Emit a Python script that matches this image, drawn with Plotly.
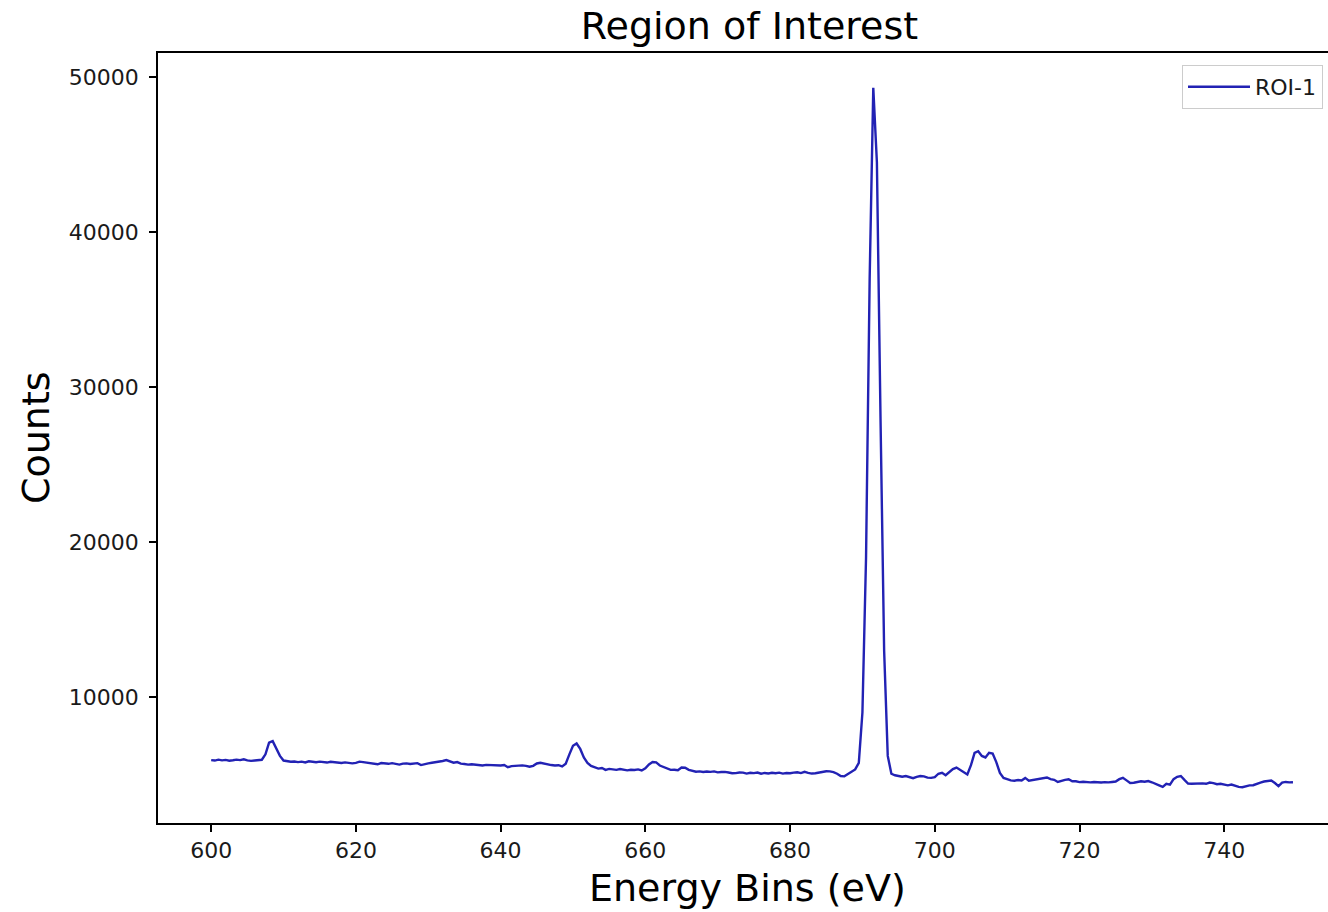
import plotly.graph_objects as go

# Energy bins (eV): 600.0 .. 749.5 in 0.5 eV steps
e_start = 600.0
e_step = 0.5

counts = [
    5930, 5900, 5960, 5910, 5940, 5890, 5920, 5960, 5930, 5980,   # 600
    5910, 5880, 5900, 5920, 5950, 6300, 7050, 7150, 6700, 6200,   # 605
    5900, 5860, 5820, 5840, 5800, 5830, 5780, 5850, 5810, 5790,   # 610
    5830, 5800, 5770, 5820, 5790, 5760, 5740, 5780, 5760, 5720,   # 615
    5750, 5830, 5800, 5760, 5720, 5690, 5660, 5740, 5720, 5690,   # 620
    5730, 5700, 5640, 5700, 5720, 5680, 5700, 5730, 5610, 5690,   # 625
    5720, 5760, 5790, 5820, 5870, 5930, 5860, 5760, 5800, 5700,   # 630
    5680, 5640, 5660, 5630, 5600, 5580, 5620, 5600, 5610, 5560,   # 635
    5580, 5610, 5470, 5540, 5560, 5540, 5590, 5560, 5500, 5560,   # 640
    5710, 5760, 5700, 5620, 5610, 5580, 5600, 5520, 5700, 6300,   # 645
    6850, 7000, 6650, 6100, 5750, 5550, 5480, 5380, 5420, 5300,   # 650
    5360, 5340, 5300, 5350, 5320, 5270, 5310, 5290, 5330, 5260,   # 655
    5400, 5650, 5800, 5780, 5580, 5470, 5380, 5300, 5310, 5280,   # 660
    5450, 5440, 5300, 5220, 5180, 5200, 5160, 5190, 5170, 5200,   # 665
    5140, 5160, 5170, 5130, 5080, 5090, 5130, 5120, 5060, 5110,   # 670
    5090, 5130, 5050, 5100, 5070, 5110, 5080, 5120, 5060, 5100,   # 675
    5080, 5120, 5140, 5090, 5170, 5110, 5060, 5080, 5120, 5180,   # 680
    5210, 5200, 5150, 5050, 4900, 4880, 5050, 5200, 5330, 5750,   # 685
    9000, 19000, 37000, 49300, 44500, 28000, 13000, 6200, 5050, 4950,  # 690
    4880, 4860, 4900, 4820, 4760, 4850, 4900, 4880, 4800, 4780,   # 695
    4830, 5050, 5110, 4950, 5150, 5350, 5450, 5300, 5100, 5000,   # 700
    5600, 6400, 6500, 6200, 6100, 6400, 6350, 5800, 5100, 4780,   # 705
    4700, 4620, 4600, 4640, 4610, 4780, 4600, 4640, 4700, 4760,   # 710
    4800, 4810, 4700, 4660, 4520, 4600, 4650, 4690, 4560, 4560,   # 715
    4510, 4530, 4500, 4490, 4520, 4500, 4480, 4510, 4490, 4520,   # 720
    4550, 4700, 4790, 4620, 4450, 4470, 4520, 4560, 4530, 4580,   # 725
    4500, 4420, 4300, 4200, 4400, 4350, 4700, 4850, 4900, 4650,   # 730
    4420, 4400, 4420, 4410, 4430, 4400, 4480, 4440, 4370, 4400,   # 735
    4330, 4300, 4350, 4260, 4200, 4180, 4250, 4300, 4310, 4420,   # 740
    4480, 4550, 4560, 4610, 4450, 4250, 4480, 4520, 4490, 4500,   # 745
]
energy = [e_start + i * e_step for i in range(len(counts))]

x_ticks = [600, 620, 640, 660, 680, 700, 720, 740]
y_ticks = [10000, 20000, 30000, 40000, 50000]

title_text = "Region of Interest"
x_label = "Energy Bins (eV)"
y_label = "Counts"
series_name = "ROI-1"

FONT = "DejaVu Sans"
W, H = 1328, 912
L, T, B, R = 158, 53, 89, 0
plot_w = W - L - R
plot_h = H - T - B

fig = go.Figure()
fig.add_trace(go.Scatter(
    x=energy, y=counts, mode="lines",
    name=series_name,
    line=dict(color="#2222b4", width=2.4),
))

fig.update_layout(
    width=W, height=H,
    margin=dict(l=L, r=R, t=T, b=B, pad=0, autoexpand=False),
    paper_bgcolor="white", plot_bgcolor="white",
    font=dict(family=FONT, color="black", size=22),
    showlegend=True,
    legend=dict(
        x=(1182 - L) / plot_w, y=1 - (65 - T) / plot_h,
        xanchor="left", yanchor="top",
        bgcolor="white", bordercolor="#cccccc", borderwidth=1,
        itemwidth=62,
        font=dict(family=FONT, size=22, color="#1a1a1a"),
    ),
    title=dict(
        text=title_text,
        x=(749.5 - L) / plot_w, xref="paper", xanchor="center",
        y=1 - 26 / H, yref="container", yanchor="middle",
        font=dict(family=FONT, size=38, color="black"),
    ),
    xaxis=dict(
        range=[592.65, 592.65 + plot_w / 7.236],
        tickvals=x_ticks, ticktext=[str(v) for v in x_ticks],
        ticks="outside", ticklen=7, tickwidth=1.5, tickcolor="black",
        showline=True, linecolor="black", linewidth=1.5, mirror=True,
        showgrid=False, zeroline=False,
        tickfont=dict(family=FONT, size=22, color="#1a1a1a"),
    ),
    yaxis=dict(
        range=[1871, 51548],
        tickvals=y_ticks, ticktext=[str(v) for v in y_ticks],
        ticks="outside", ticklen=7, tickwidth=1.5, tickcolor="black",
        showline=True, linecolor="black", linewidth=1.5, mirror=False,
        showgrid=False, zeroline=False, ticklabelstandoff=6,
        tickfont=dict(family=FONT, size=22, color="#1a1a1a"),
    ),
    annotations=[
        dict(text=x_label, xref="paper", yref="paper",
             x=(747.5 - L) / plot_w, y=0, xanchor="center", yanchor="middle",
             yshift=-(888 - (H - B)), showarrow=False,
             font=dict(family=FONT, size=38, color="black")),
        dict(text=y_label, xref="paper", yref="paper",
             x=0, y=0.5, xanchor="center", yanchor="middle",
             xshift=36 - L, textangle=-90, showarrow=False,
             font=dict(family=FONT, size=38, color="black")),
    ],
)

fig.write_html("out.html")
